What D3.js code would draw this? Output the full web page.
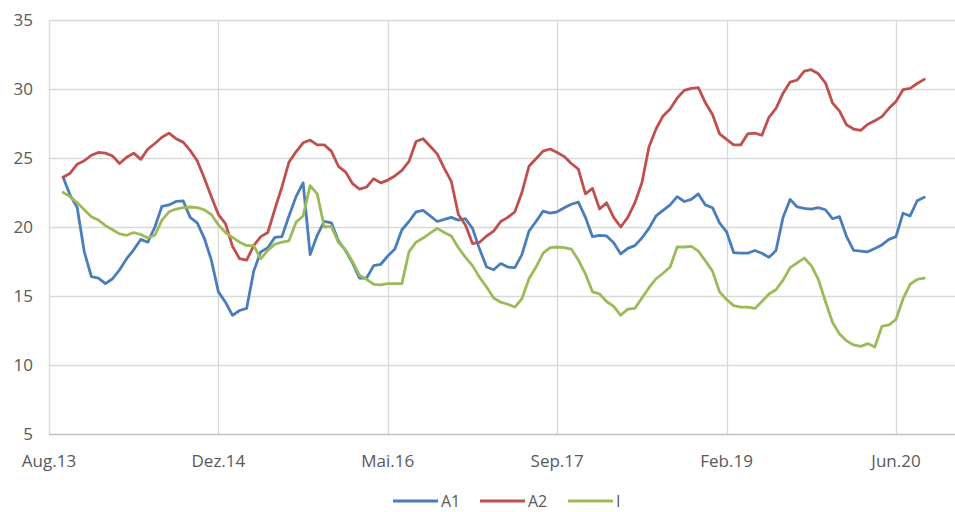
<!DOCTYPE html>
<html>
<head>
<meta charset="utf-8">
<script src="https://cdn.jsdelivr.net/npm/d3@7"></script>
<style>
  html, body { margin: 0; padding: 0; background: #ffffff; }
  svg { display: block; }
  text { font-family: "Open Sans", "Liberation Sans", sans-serif; fill: #595959; }
</style>
</head>
<body>
<svg id="chart" width="955" height="512"></svg>
<script>
// ---- data ----
const tickLabels = ["Aug.13", "Dez.14", "Mai.16", "Sep.17", "Feb.19", "Jun.20"];
const tickWeeks = [0, 72, 144, 216, 288, 360];           // weekly categories, label every 72 weeks
const weeks = d3.range(6, 373, 3);                       // sampled category positions (weeks since Aug.13)

const seriesNames = ["A1", "A2", "I"];

const A1 = [
  23.6, 22.3, 21.4, 18.2, 16.4, 16.3, 15.9, 16.25, 16.9, 17.7,
  18.35, 19.1, 18.9, 20.0, 21.5, 21.6, 21.85, 21.9, 20.7, 20.3,
  19.2, 17.6, 15.3, 14.55, 13.6, 13.95, 14.1, 16.8, 18.2, 18.5,
  19.25, 19.3, 20.8, 22.2, 23.2, 18.0, 19.4, 20.4, 20.3, 19.0,
  18.3, 17.4, 16.3, 16.3, 17.2, 17.3, 17.9, 18.4, 19.8, 20.4,
  21.1, 21.2, 20.8, 20.4, 20.55, 20.7, 20.5, 20.6, 19.9, 18.4,
  17.1, 16.9, 17.35, 17.1, 17.05, 18.0, 19.7, 20.4, 21.15, 21.0,
  21.1, 21.4, 21.65, 21.8, 20.7, 19.3, 19.4, 19.35, 18.85, 18.05,
  18.45, 18.65, 19.2, 19.9, 20.8, 21.2, 21.6, 22.2, 21.85, 22.0,
  22.4, 21.6, 21.4, 20.3, 19.65, 18.15, 18.1, 18.1, 18.3, 18.1,
  17.8, 18.3, 20.7, 22.0, 21.45, 21.35, 21.3, 21.4, 21.25, 20.6,
  20.75, 19.3, 18.3, 18.25, 18.2, 18.45, 18.7, 19.1, 19.3, 21.0,
  20.8, 21.9, 22.15
];

const A2 = [
  23.6, 23.9, 24.55, 24.8, 25.2, 25.4, 25.35, 25.15, 24.6, 25.05,
  25.35, 24.9, 25.65, 26.05, 26.5, 26.8, 26.4, 26.15, 25.55, 24.8,
  23.55, 22.2, 20.9, 20.25, 18.6, 17.7, 17.6, 18.65, 19.3, 19.6,
  21.3, 22.9, 24.7, 25.45, 26.1, 26.3, 25.95, 25.95, 25.5, 24.4,
  24.0, 23.15, 22.75, 22.9, 23.5, 23.2, 23.4, 23.7, 24.1, 24.75,
  26.2, 26.4, 25.85, 25.3, 24.25, 23.3, 20.9, 20.15, 18.8, 18.9,
  19.35, 19.7, 20.4, 20.7, 21.1, 22.5, 24.4, 24.95, 25.5, 25.65,
  25.4, 25.1, 24.6, 24.2, 22.4, 22.8, 21.3, 21.75, 20.7, 20.0,
  20.7, 21.75, 23.2, 25.8, 27.1, 28.05, 28.55, 29.35, 29.9, 30.05,
  30.1, 29.0, 28.15, 26.75, 26.35, 25.95, 25.95, 26.75, 26.8, 26.65,
  27.95, 28.6, 29.7, 30.5, 30.65, 31.3, 31.4, 31.1, 30.45, 29.0,
  28.4, 27.4, 27.1, 27.0, 27.45, 27.7, 28.0, 28.6, 29.1, 29.95,
  30.05, 30.4, 30.7
];

const I = [
  22.5, 22.2, 21.75, 21.25, 20.75, 20.5, 20.1, 19.8, 19.5, 19.4,
  19.6, 19.45, 19.2, 19.4, 20.5, 21.1, 21.3, 21.4, 21.45, 21.4,
  21.25, 20.9, 20.15, 19.6, 19.25, 18.9, 18.65, 18.65, 17.7, 18.3,
  18.75, 18.9, 19.0, 20.35, 20.8, 23.0, 22.4, 20.0, 20.05, 18.9,
  18.35, 17.5, 16.5, 16.2, 15.85, 15.8, 15.9, 15.9, 15.9, 18.2,
  18.9, 19.2, 19.55, 19.9, 19.6, 19.35, 18.5, 17.8, 17.2, 16.35,
  15.65, 14.85, 14.55, 14.4, 14.2, 14.8, 16.25, 17.1, 18.1, 18.5,
  18.55, 18.5, 18.4, 17.6, 16.6, 15.3, 15.15, 14.6, 14.25, 13.6,
  14.05, 14.1, 14.85, 15.6, 16.25, 16.65, 17.1, 18.55, 18.55, 18.6,
  18.25, 17.55, 16.8, 15.3, 14.75, 14.3, 14.2, 14.2, 14.1, 14.6,
  15.15, 15.45, 16.15, 17.05, 17.4, 17.75, 17.2, 16.2, 14.6, 13.1,
  12.25, 11.75, 11.45, 11.35, 11.55, 11.3, 12.8, 12.9, 13.3, 14.8,
  15.85, 16.2, 16.3
];

const yTicks = [5, 10, 15, 20, 25, 30, 35];
const colors = ["#4A7EBB", "#C0504D", "#9BBB59"];

// ---- layout ----
const plot = { left: 49, right: 955, top: 20, bottom: 434 };
const svg = d3.select("#chart");

const x = d3.scaleLinear().domain([0, 360]).range([plot.left, 896]);
const y = d3.scaleLinear().domain([5, 35]).range([plot.bottom, plot.top]);

// horizontal gridlines
svg.append("g").selectAll("line").data(yTicks.filter(d => d !== 5)).join("line")
  .attr("x1", plot.left).attr("x2", plot.right)
  .attr("y1", d => Math.round(y(d)) + 0.5).attr("y2", d => Math.round(y(d)) + 0.5)
  .attr("stroke", "#d9d9d9").attr("stroke-width", 1.3);

// vertical gridlines
svg.append("g").selectAll("line").data(tickWeeks).join("line")
  .attr("x1", d => Math.round(x(d)) + 0.5).attr("x2", d => Math.round(x(d)) + 0.5)
  .attr("y1", plot.top).attr("y2", plot.bottom)
  .attr("stroke", "#d9d9d9").attr("stroke-width", 1.3);

// bottom axis line
svg.append("line")
  .attr("x1", plot.left).attr("x2", plot.right)
  .attr("y1", Math.round(y(5)) + 0.5).attr("y2", Math.round(y(5)) + 0.5)
  .attr("stroke", "#bfbfbf").attr("stroke-width", 1.5);

// y labels
svg.append("g").selectAll("text").data(yTicks).join("text")
  .attr("x", 33).attr("y", d => y(d))
  .attr("dy", "0.35em")
  .attr("text-anchor", "end")
  .style("font-size", "17px")
  .text(d => d);

// x labels
svg.append("g").selectAll("text").data(tickWeeks).join("text")
  .attr("x", d => x(d)).attr("y", 467)
  .attr("text-anchor", "middle")
  .style("font-size", "17px")
  .text((d, i) => tickLabels[i]);

// series lines
const seriesData = [A1, A2, I];
const line = d3.line()
  .x((d, i) => x(weeks[i]))
  .y(d => y(d));

svg.append("g").selectAll("path").data(seriesData).join("path")
  .attr("d", d => line(d))
  .attr("fill", "none")
  .attr("stroke", (d, i) => colors[i])
  .attr("stroke-width", 2.8)
  .attr("stroke-linejoin", "round")
  .attr("stroke-linecap", "round");

// legend
const legendX = [393, 480, 568];
const lg = svg.append("g").selectAll("g").data(seriesNames).join("g")
  .attr("transform", (d, i) => `translate(${legendX[i]},501)`);
lg.append("line")
  .attr("x1", 0).attr("x2", 45).attr("y1", 0).attr("y2", 0)
  .attr("stroke", (d, i) => colors[i]).attr("stroke-width", 2.8);
lg.append("text")
  .attr("x", 48).attr("y", 0).attr("dy", "0.35em")
  .style("font-size", "16px")
  .text(d => d);
</script>
</body>
</html>
